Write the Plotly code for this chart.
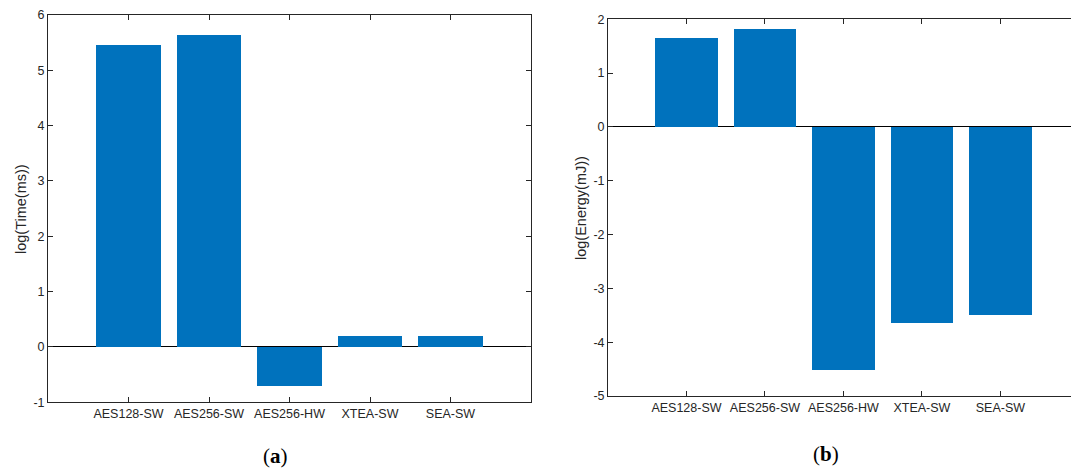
import plotly.graph_objects as go

categories = ["AES128-SW", "AES256-SW", "AES256-HW", "XTEA-SW", "SEA-SW"]
log_time_ms = [5.45, 5.63, -0.71, 0.19, 0.20]
log_energy_mj = [1.65, 1.82, -4.51, -3.64, -3.49]
time_ticks = [-1, 0, 1, 2, 3, 4, 5, 6]
energy_ticks = [-5, -4, -3, -2, -1, 0, 1, 2]

W, H = 1071, 468
BAR = "#0072BD"
AX = "#262626"
FONT = "Liberation Sans, Arial, sans-serif"
pos = list(range(1, len(categories) + 1))

fig = go.Figure()
fig.add_trace(go.Bar(x=pos, y=log_time_ms, width=0.8, marker=dict(color=BAR, line=dict(width=0)),
                     xaxis="x", yaxis="y", showlegend=False, hoverinfo="skip"))
fig.add_trace(go.Bar(x=pos, y=log_energy_mj, width=0.8, marker=dict(color=BAR, line=dict(width=0)),
                     xaxis="x2", yaxis="y2", showlegend=False, hoverinfo="skip"))

common_x = dict(tickmode="array", tickvals=pos, ticktext=categories, ticks="inside", ticklen=5,
                tickcolor=AX, showline=True, linecolor=AX, linewidth=1, showgrid=False,
                zeroline=False, automargin=False, tickfont=dict(family=FONT, size=12.5, color=AX))
common_y = dict(tickmode="array", ticks="inside", ticklen=5, tickcolor=AX, showline=True,
                linecolor=AX, linewidth=1, showgrid=False, zeroline=True, zerolinecolor="#000000",
                zerolinewidth=1, automargin=False, tickfont=dict(family=FONT, size=12.5, color=AX))

fig.update_layout(
    template="none",
    width=W, height=H, margin=dict(l=0, r=0, t=0, b=0, pad=0), autosize=False,
    paper_bgcolor="white", plot_bgcolor="white", bargap=0,
    xaxis=dict(domain=[48 / W, 531 / W], range=[0, 6], mirror="ticks", anchor="y", **common_x),
    yaxis=dict(domain=[1 - 402.3 / H, 1 - 15 / H], range=[-1, 6], tickvals=time_ticks,
               ticktext=[str(v) for v in time_ticks], mirror="ticks", anchor="x", **common_y),
    xaxis2=dict(domain=[608 / W, 1.0], range=[0, 5.9], mirror="ticks", anchor="y2", **common_x),
    yaxis2=dict(domain=[1 - 396 / H, 1 - 19.3 / H], range=[-5, 2], tickvals=energy_ticks,
                ticktext=[str(v) for v in energy_ticks], mirror=False, anchor="x2", **common_y),
    annotations=[
        dict(text="log(Time(ms))", x=21 / W, y=1 - 209 / H, xref="paper", yref="paper",
             xanchor="center", yanchor="middle",
             textangle=-90, showarrow=False, font=dict(family=FONT, size=14.5, color=AX)),
        dict(text="log(Energy(mJ))", x=581 / W, y=1 - 208 / H, xref="paper", yref="paper",
             xanchor="center", yanchor="middle",
             textangle=-90, showarrow=False, font=dict(family=FONT, size=14.5, color=AX)),
        dict(text="(<b>a</b>)", x=276 / W, y=1 - 456 / H, xref="paper", yref="paper",
             xanchor="center", yanchor="middle",
             showarrow=False, font=dict(family="Liberation Serif, serif", size=21, color="#000000")),
        dict(text="(<b>b</b>)", x=826 / W, y=1 - 454 / H, xref="paper", yref="paper",
             xanchor="center", yanchor="middle",
             showarrow=False, font=dict(family="Liberation Serif, serif", size=21, color="#000000")),
    ],
)

fig.write_html("out.html", config={"displayModeBar": False, "staticPlot": True},
               post_script="document.body.style.margin='0';document.body.style.overflow='hidden';")
